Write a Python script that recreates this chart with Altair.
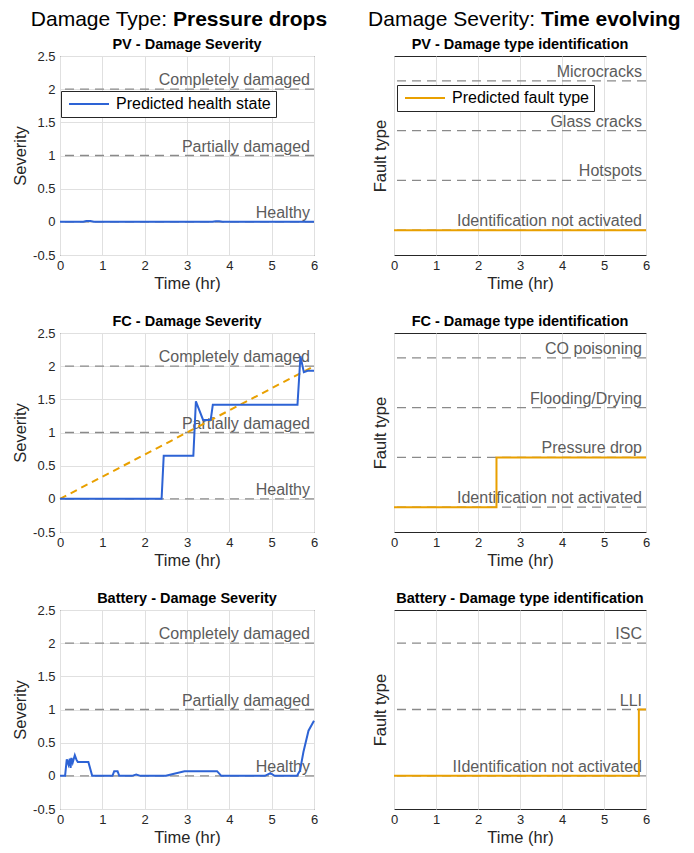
import altair as alt
import pandas as pd

FONT = "Liberation Sans"
BLUE = "#2d63d5"
ORANGE = "#e9a000"
DASH_GRAY = "#8a8a8a"
LABEL_GRAY = "#5c5c5c"
GRID = "#e0e0e0"
INK = "#262626"

# ---------------- data ----------------
time_ticks = [0, 1, 2, 3, 4, 5, 6]
severity_ticks = [-0.5, 0, 0.5, 1, 1.5, 2, 2.5]
severity_levels = [0, 1, 2]
severity_labels = ["Healthy", "Partially damaged", "Completely damaged"]

pv_fault_levels = [0, 1, 2, 3]
pv_fault_labels = ["Identification not activated", "Hotspots", "Glass cracks", "Microcracks"]
fc_fault_levels = [0, 1, 2, 3]
fc_fault_labels = ["Identification not activated", "Pressure drop", "Flooding/Drying", "CO poisoning"]
bat_fault_levels = [0, 1, 2]
bat_fault_labels = ["IIdentification not activated", "LLI", "ISC"]

# PV
pv_sev_t = [0, 0.55, 0.62, 0.72, 0.8, 3.6, 3.68, 3.76, 3.84, 6]
pv_sev_v = [0, 0, 0.012, 0.012, 0, 0, 0.008, 0.008, 0, 0]
pv_fault_t = [0, 6]
pv_fault_v = [0, 0]

# FC
fc_sev_t = [0, 2.40, 2.45, 3.15, 3.21, 3.38, 3.56, 3.61, 5.61, 5.68, 5.76, 5.85, 6]
fc_sev_v = [0, 0, 0.65, 0.65, 1.47, 1.19, 1.19, 1.42, 1.42, 2.15, 1.91, 1.93, 1.93]
fc_true_t = [0, 6]
fc_true_v = [0, 2]
fc_fault_t = [0, 2.44, 2.44, 6]
fc_fault_v = [0, 0, 1, 1]

# Battery
bat_sev_t = [0, 0.12, 0.16, 0.2, 0.23, 0.25, 0.27, 0.3, 0.35, 0.39, 0.42, 0.67, 0.76,
             1.24, 1.28, 1.36, 1.4, 1.7, 1.8, 1.9, 2.5, 2.94, 3.71, 3.81,
             4.84, 4.97, 5.07, 5.6, 5.67, 5.75, 5.87, 6]
bat_sev_v = [0, 0, 0.25, 0.17, 0.26, 0.12, 0.27, 0.2, 0.31, 0.24, 0.21, 0.21, 0,
             0, 0.07, 0.07, 0, 0, 0.02, 0, 0, 0.07, 0.07, 0,
             0, 0.04, 0, 0, 0.08, 0.36, 0.68, 0.83]
bat_fault_t = [0, 5.83, 5.83, 6]
bat_fault_v = [0, 0, 1, 1]

# panel titles and column headings
panel_titles = ["PV - Damage Severity", "PV - Damage type identification",
                "FC - Damage Severity", "FC - Damage type identification",
                "Battery - Damage Severity", "Battery - Damage type identification"]
heading_plain = ["Damage Type:", "Damage Severity:"]
heading_bold = ["Pressure drops", "Time evolving"]

LEFT_W, RIGHT_W, H = 254, 252, 199


def series_df(t, v, name):
    return pd.DataFrame({"t": t, "v": v, "i": list(range(len(t))), "series": name})


def x_enc():
    return alt.X("t:Q", scale=alt.Scale(domain=[0, 6], nice=False, zero=False),
                 axis=alt.Axis(values=time_ticks, title="Time (hr)", grid=True,
                               labelFlush=False, labelExpr="'' + datum.value"))


def y_sev():
    return alt.Y("v:Q", scale=alt.Scale(domain=[-0.5, 2.5], nice=False, zero=False),
                 axis=alt.Axis(values=severity_ticks, title="Severity", grid=True, labelFlush=False,
                               labelExpr="'' + datum.value", labelPadding=5, titlePadding=4))


def y_fault(top):
    return alt.Y("v:Q", scale=alt.Scale(domain=[-0.5, top], nice=False, zero=False),
                 axis=alt.Axis(title="Fault type", grid=False, labels=False, ticks=False,
                               titlePadding=6))


def level_layers(levels, labels, y):
    df = pd.DataFrame({"v": levels, "label": labels})
    rules = alt.Chart(df).mark_rule(strokeDash=[9, 6], color=DASH_GRAY, strokeWidth=1.3).encode(y=y)
    texts = alt.Chart(df).mark_text(align="right", baseline="alphabetic", dx=-4, dy=-4,
                                    fontSize=16, font=FONT, color=LABEL_GRAY).encode(
        x=alt.X(datum=6, scale=alt.Scale(domain=[0, 6], nice=False, zero=False)),
        y=y, text="label:N")
    return [rules, texts]


def legend(lx, ly):
    return alt.Legend(orient="none", legendX=lx, legendY=ly, title=None,
                      strokeColor=INK, fillColor="white", padding=5, cornerRadius=0,
                      labelFont=FONT, labelFontSize=16, labelColor="black",
                      symbolType="M-4,0H4", symbolSize=100, symbolStrokeWidth=2,
                      symbolOffset=15, labelOffset=19)


def line_layer(t, v, name, color, y, leg=None, dash=None):
    df = series_df(t, v, name)
    kw = dict(strokeWidth=2)
    if dash:
        kw["strokeDash"] = dash
    mk = alt.Chart(df).mark_line(**kw)
    if leg is not None:
        c = alt.Color("series:N", scale=alt.Scale(domain=[name], range=[color]), legend=leg)
    else:
        c = alt.value(color)
    return mk.encode(x=x_enc(), y=y, color=c, order="i:Q")


def heading_layers(k, xpos):
    df = pd.DataFrame({"plain": [heading_plain[k]], "bold": [heading_bold[k]]})
    a = alt.Chart(df).mark_text(align="right", baseline="alphabetic", fontSize=21, font=FONT,
                                color="black").encode(x=alt.value(xpos), y=alt.value(-30), text="plain:N")
    b = alt.Chart(df).mark_text(align="left", baseline="alphabetic", fontSize=21, font=FONT,
                                fontWeight="bold", color="black").encode(
        x=alt.value(xpos + 6), y=alt.value(-30), text="bold:N")
    return [a, b]


def title_layer(k, width):
    df = pd.DataFrame({"title": [panel_titles[k]]})
    return alt.Chart(df).mark_text(align="center", baseline="alphabetic", fontSize=14.5, font=FONT,
                                   fontWeight="bold", color="black").encode(
        x=alt.value(width / 2), y=alt.value(-7), text="title:N")


# ----- PV severity
y = y_sev()
pv_sev = alt.layer(
    *level_layers(severity_levels, severity_labels, y),
    line_layer(pv_sev_t, pv_sev_v, "Predicted health state", BLUE, y, leg=legend(1, 35)),
    title_layer(0, LEFT_W),
    *heading_layers(0, 107),
).properties(width=LEFT_W, height=H)

# ----- PV fault type
y = y_fault(3.5)
pv_fault = alt.layer(
    *level_layers(pv_fault_levels, pv_fault_labels, y),
    line_layer(pv_fault_t, pv_fault_v, "Predicted fault type", ORANGE, y, leg=legend(3, 29)),
    title_layer(1, RIGHT_W),
    *heading_layers(1, 141),
).properties(width=RIGHT_W, height=H)

# ----- FC severity
y = y_sev()
fc_sev = alt.layer(
    *level_layers(severity_levels, severity_labels, y),
    line_layer(fc_true_t, fc_true_v, "True severity", ORANGE, y, dash=[7, 5]),
    line_layer(fc_sev_t, fc_sev_v, "Predicted health state", BLUE, y),
    title_layer(2, LEFT_W),
).properties(width=LEFT_W, height=H)

# ----- FC fault type
y = y_fault(3.5)
fc_fault = alt.layer(
    *level_layers(fc_fault_levels, fc_fault_labels, y),
    line_layer(fc_fault_t, fc_fault_v, "Predicted fault type", ORANGE, y),
    title_layer(3, RIGHT_W),
).properties(width=RIGHT_W, height=H)

# ----- Battery severity
y = y_sev()
bat_sev = alt.layer(
    *level_layers(severity_levels, severity_labels, y),
    line_layer(bat_sev_t, bat_sev_v, "Predicted health state", BLUE, y),
    title_layer(4, LEFT_W),
).properties(width=LEFT_W, height=H)

# ----- Battery fault type
y = y_fault(2.5)
bat_fault = alt.layer(
    *level_layers(bat_fault_levels, bat_fault_labels, y),
    line_layer(bat_fault_t, bat_fault_v, "Predicted fault type", ORANGE, y),
    title_layer(5, RIGHT_W),
).properties(width=RIGHT_W, height=H)

chart = alt.concat(
    pv_sev, pv_fault, fc_sev, fc_fault, bat_sev, bat_fault,
    columns=2, spacing={"row": 78, "column": 80}, bounds="flush",
).resolve_scale(
    color="independent", x="independent", y="independent"
).resolve_legend(color="independent").properties(
    padding={"left": 4, "top": 0, "right": 0, "bottom": 5}
).configure_view(
    stroke=INK, strokeWidth=1
).configure_axis(
    labelFont=FONT, titleFont=FONT, labelFontSize=13, titleFontSize=16.5,
    labelColor=INK, titleColor=INK, titleFontWeight="normal", gridColor=GRID,
    domain=False, ticks=False, labelPadding=4, titlePadding=3
)

chart.save("out.html", embed_options={"renderer": "svg", "actions": False})
